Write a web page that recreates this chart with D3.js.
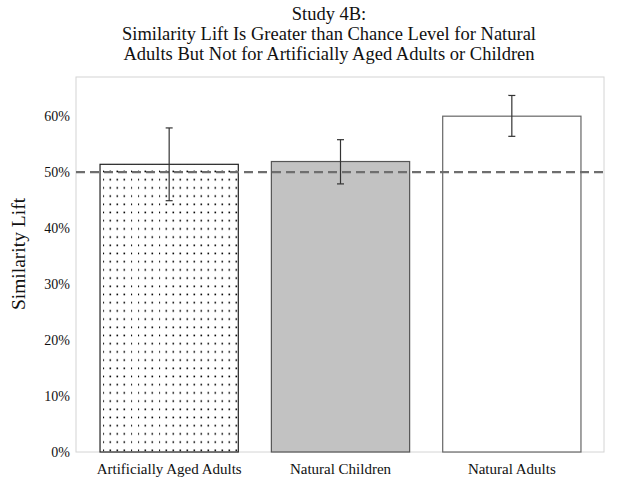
<!DOCTYPE html>
<html>
<head>
<meta charset="utf-8">
<script src="https://cdn.jsdelivr.net/npm/d3@7"></script>
<style>
  body { margin: 0; background: white; }
  text { font-family: "Liberation Serif", "Times New Roman", serif; fill: #111; }
</style>
</head>
<body>
<div id="chart"></div>
<script>
// Data
let groups = ["Artificially Aged Adults", "Natural Children", "Natural Adults"];
let means = [51.4, 51.9, 60.0];
let errLow = [44.9, 47.9, 56.4];
let errHigh = [57.9, 55.8, 63.7];
let yTicks = [0, 10, 20, 30, 40, 50, 60];
let chanceLevel = 50;
let titleLines = ["Study 4B:",
    "Similarity Lift Is Greater than Chance Level for Natural",
    "Adults But Not for Artificially Aged Adults or Children"];

let totalW = 638, totalH = 494;
let margin = {top: 77, right: 34, bottom: 42, left: 76};
let width = totalW - margin.left - margin.right,
    height = totalH - margin.top - margin.bottom;

let svg = d3.select("#chart").append("svg")
    .attr("width", totalW)
    .attr("height", totalH);

// dotted fill for first bar
let defs = svg.append("defs");
let pat = defs.append("pattern")
    .attr("id", "dots")
    .attr("patternUnits", "userSpaceOnUse")
    .attr("width", 7)
    .attr("height", 8.2)
    .attr("x", 103)
    .attr("y", 167);
pat.append("rect").attr("width", 7).attr("height", 8.2).attr("fill", "white");
pat.append("rect").attr("x", 0.5).attr("y", 0.5).attr("width", 1.6).attr("height", 1.6).attr("fill", "#000");

let g = svg.append("g")
    .attr("transform", "translate(" + margin.left + "," + margin.top + ")");

let x = d3.scaleBand()
    .domain(groups)
    .range([7.5, 521.5])
    .paddingInner(0.193)
    .paddingOuter(0.0965);

let y = d3.scaleLinear()
    .domain([0, 67])
    .range([height, 0]);

// plot frame
g.append("rect")
    .attr("x", 0).attr("y", 0)
    .attr("width", width).attr("height", height)
    .attr("fill", "none")
    .attr("stroke", "#d4d4d4")
    .attr("stroke-width", 1);

let fills = ["url(#dots)", "#c2c2c2", "white"];
let strokes = ["#222", "#555", "#666"];

g.selectAll(".bar")
    .data(groups)
    .enter()
    .append("rect")
    .attr("class", "bar")
    .attr("x", d => x(d))
    .attr("y", (d, i) => y(means[i]))
    .attr("width", x.bandwidth())
    .attr("height", (d, i) => height - y(means[i]))
    .attr("fill", (d, i) => fills[i])
    .attr("stroke", (d, i) => strokes[i])
    .attr("stroke-width", 1.2);

// chance line
g.append("line")
    .attr("x1", 0).attr("x2", width)
    .attr("y1", y(chanceLevel)).attr("y2", y(chanceLevel))
    .attr("stroke", "#6e6e6e")
    .attr("stroke-width", 2.2)
    .attr("stroke-dasharray", "9,5");

// error bars
let errs = g.append("g").attr("stroke", "#333").attr("stroke-width", 1.2);
groups.forEach((d, i) => {
    let cx = x(d) + x.bandwidth() / 2;
    errs.append("line").attr("x1", cx).attr("x2", cx)
        .attr("y1", y(errLow[i])).attr("y2", y(errHigh[i]));
    errs.append("line").attr("x1", cx - 3.5).attr("x2", cx + 3.5)
        .attr("y1", y(errLow[i])).attr("y2", y(errLow[i]));
    errs.append("line").attr("x1", cx - 3.5).attr("x2", cx + 3.5)
        .attr("y1", y(errHigh[i])).attr("y2", y(errHigh[i]));
});

// y axis
let yAxis = g.append("g")
    .call(d3.axisLeft(y).tickValues(yTicks).tickSize(0).tickPadding(6)
        .tickFormat(d => d + "%"));
yAxis.select(".domain").remove();
yAxis.selectAll("text")
    .attr("font-family", "Liberation Serif, serif")
    .attr("font-size", 14)
    .attr("fill", "#111");

// x axis
let xAxis = g.append("g")
    .attr("transform", "translate(0," + height + ")")
    .call(d3.axisBottom(x).tickSize(0).tickPadding(11));
xAxis.select(".domain").remove();
xAxis.selectAll("text")
    .attr("font-family", "Liberation Serif, serif")
    .attr("font-size", 15)
    .attr("fill", "#111");

// y label
svg.append("text")
    .attr("transform", "translate(25,254) rotate(-90)")
    .attr("text-anchor", "middle")
    .attr("font-size", 19.5)
    .text("Similarity Lift");

// title
svg.append("g").selectAll("text")
    .data(titleLines)
    .enter()
    .append("text")
    .attr("x", 329)
    .attr("y", (d, i) => 20 + i * 20)
    .attr("text-anchor", "middle")
    .attr("font-size", 18.5)
    .text(d => d);
</script>
</body>
</html>
